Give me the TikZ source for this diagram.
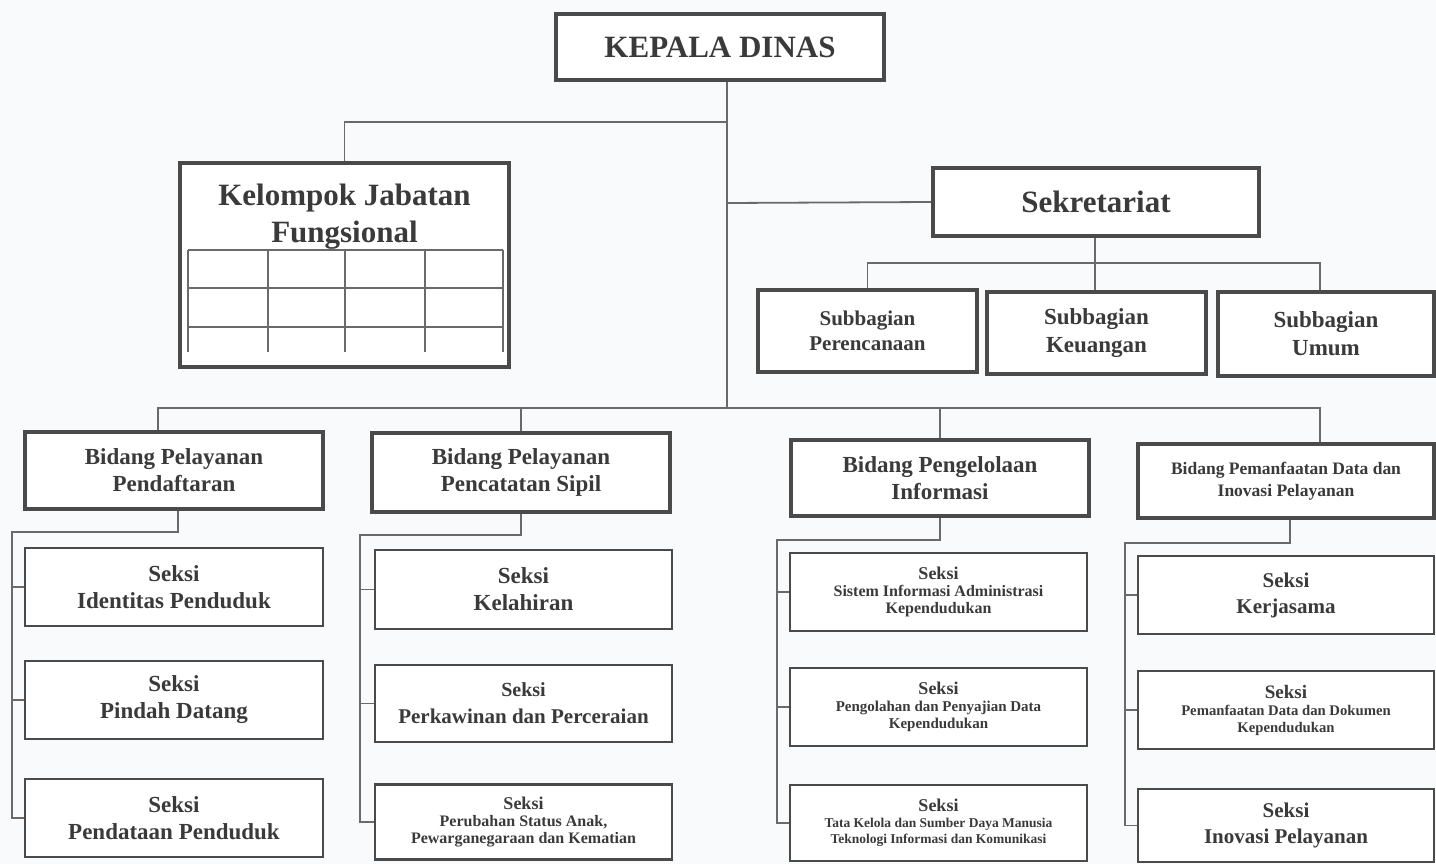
\documentclass[tikz,border=0pt]{standalone}
\usepackage{fontspec}
\setmainfont{Liberation Serif}
\newcommand\fsz[2]{\fontsize{#1}{#2}\selectfont}
\definecolor{boxc}{HTML}{4A4A4A}
\definecolor{linec}{HTML}{6A6A6A}
\definecolor{txt}{HTML}{3A3A3A}
\definecolor{bgc}{HTML}{F8FAFC}
\begin{document}
\begin{tikzpicture}[x=1pt,y=-1pt,
  conn/.style={draw=linec, line width=1.8pt},
  gridl/.style={draw=linec, line width=1.4pt},
  heavybox/.style={draw=boxc, line width=3.8pt, fill=white, inner sep=2pt, align=center, text=txt, font=\bfseries},
  lightbox/.style={draw=boxc, line width=2.4pt, fill=white, inner sep=2pt, align=center, text=txt, font=\bfseries},
  bigtxt/.style={font=\bfseries\fsz{31}{37}},
  midtxt/.style={font=\bfseries\fsz{23}{27}},
  smalltxt/.style={font=\bfseries\fsz{15.5}{17}},
]
\useasboundingbox (0,0) rectangle (1436,864);
\fill[bgc] (0,0) rectangle (1436,864);

% top level
\node[heavybox, bigtxt, minimum width=328, minimum height=66] (kd) at (720,47) {KEPALA DINAS};
\node[heavybox, minimum width=329, minimum height=204] (kjf) at (344.5,265) {};
\node[bigtxt, text=txt, align=center] (kjft) at (344.5,217) {Kelompok Jabatan\\Fungsional};
\node[heavybox, bigtxt, minimum width=326, minimum height=68] (sek) at (1096,202) {Sekretariat};

% grid in KJF box
\foreach \yy in {250,288,327} \draw[gridl] (188,\yy) -- (503,\yy);
\foreach \xx in {188,268,345,425,503} \draw[gridl] (\xx,250) -- (\xx,352);

% subbagian
\node[heavybox, font=\bfseries\fsz{21}{25}, minimum width=219, minimum height=82] (sb1) at (867.5,331) {Subbagian\\Perencanaan};
\node[heavybox, font=\bfseries\fsz{23}{28}, minimum width=219, minimum height=82] (sb2) at (1096.5,333) {Subbagian\\Keuangan};
\node[heavybox, font=\bfseries\fsz{23}{28}, minimum width=216, minimum height=84] (sb3) at (1326,334) {Subbagian\\Umum};

% bidang
\node[heavybox, midtxt, minimum width=298, minimum height=77] (b1) at (174,470.5) {Bidang Pelayanan\\Pendaftaran};
\node[heavybox, midtxt, minimum width=298, minimum height=79] (b2) at (521,472.5) {Bidang Pelayanan\\Pencatatan Sipil};
\node[heavybox, midtxt, minimum width=298, minimum height=76] (b3) at (940,478) {Bidang Pengelolaan\\Informasi};
\node[heavybox, font=\bfseries\fsz{17.5}{22}, minimum width=296, minimum height=74] (b4) at (1286,481) {Bidang Pemanfaatan Data dan\\Inovasi Pelayanan};

% seksi column 1
\node[lightbox, midtxt, minimum width=298, minimum height=78] (s11) at (174,587) {Seksi\\Identitas Penduduk};
\node[lightbox, midtxt, minimum width=298, minimum height=78] (s12) at (174,700) {Seksi\\Pindah Datang};
\node[lightbox, midtxt, minimum width=298, minimum height=78] (s13) at (174,818) {Seksi\\Pendataan Penduduk};

% seksi column 2
\node[lightbox, midtxt, minimum width=297, minimum height=79] (s21) at (523.5,589.5) {Seksi\\Kelahiran};
\node[lightbox, font=\bfseries\fsz{21}{27}, minimum width=297, minimum height=77] (s22) at (523.5,703.5) {{\fsz{20}{27}Seksi}\\Perkawinan dan Perceraian};
\node[lightbox, font=\bfseries\fsz{16}{17}, minimum width=297, minimum height=75] (s23) at (523.5,822) {{\fsz{18}{20}Seksi}\\Perubahan Status Anak,\\Pewarganegaraan dan Kematian};

% seksi column 3
\node[lightbox, font=\bfseries\fsz{16}{17}, minimum width=297, minimum height=78] (s31) at (938.5,592) {{\fsz{18}{20}Seksi}\\Sistem Informasi Administrasi\\Kependudukan};
\node[lightbox, font=\bfseries\fsz{15}{17}, minimum width=297, minimum height=78] (s32) at (938.5,707) {{\fsz{18}{20}Seksi}\\Pengolahan dan Penyajian Data\\Kependudukan};
\node[lightbox, font=\bfseries\fsz{13.5}{16}, minimum width=297, minimum height=76] (s33) at (938.5,823) {{\fsz{18}{20}Seksi}\\Tata Kelola dan Sumber Daya Manusia\\Teknologi Informasi dan Komunikasi};

% seksi column 4
\node[lightbox, font=\bfseries\fsz{21}{26}, minimum width=296, minimum height=78] (s41) at (1286,595) {Seksi\\Kerjasama};
\node[lightbox, font=\bfseries\fsz{14.7}{17}, minimum width=296, minimum height=78] (s42) at (1286,710) {{\fsz{19}{21}Seksi}\\Pemanfaatan Data dan Dokumen\\Kependudukan};
\node[lightbox, font=\bfseries\fsz{21}{26}, minimum width=296, minimum height=73] (s43) at (1286,825.5) {Seksi\\Inovasi Pelayanan};

% junction coordinates
\coordinate (bus) at (727,408);
\coordinate (jk) at (727,122);
\coordinate (js) at (727,203);
\coordinate (jsb) at (1095,263);
\coordinate (c1) at (12,532);
\coordinate (c2) at (360,535);
\coordinate (c3) at (777,540);
\coordinate (c4) at (1125,543);

% connectors
\draw[conn] (kd.south -| bus) -- (bus);
\draw[conn] (jk) -| (kjf.north);
\draw[conn] (js) -- (sek.west);
\draw[conn] (sek.south -| jsb) -- (jsb);
\draw[conn] (sb1.north) |- (jsb);
\draw[conn] (jsb) -| ([xshift=-6pt]sb3.north);
\draw[conn] (jsb) -- (jsb |- sb2.north);
\draw[conn] ([xshift=-16pt]b1.north) |- (bus);
\draw[conn] (bus) -| ([xshift=34pt]b4.north);
\draw[conn] (b2.north) -- (b2.north |- bus);
\draw[conn] (b3.north) -- (b3.north |- bus);

\draw[conn] ([xshift=4pt]b1.south) |- (c1) |- (s13.west);
\draw[conn] (c1 |- s11.west) -- (s11.west);
\draw[conn] (c1 |- s12.west) -- (s12.west);

\draw[conn] (b2.south) |- (c2) |- (s23.west);
\draw[conn] (c2 |- s21.west) -- (s21.west);
\draw[conn] (c2 |- s22.west) -- (s22.west);

\draw[conn] (b3.south) |- (c3) |- (s33.west);
\draw[conn] (c3 |- s31.west) -- (s31.west);
\draw[conn] (c3 |- s32.west) -- (s32.west);

\draw[conn] ([xshift=4pt]b4.south) |- (c4) |- (s43.west);
\draw[conn] (c4 |- s41.west) -- (s41.west);
\draw[conn] (c4 |- s42.west) -- (s42.west);
\end{tikzpicture}
\end{document}
